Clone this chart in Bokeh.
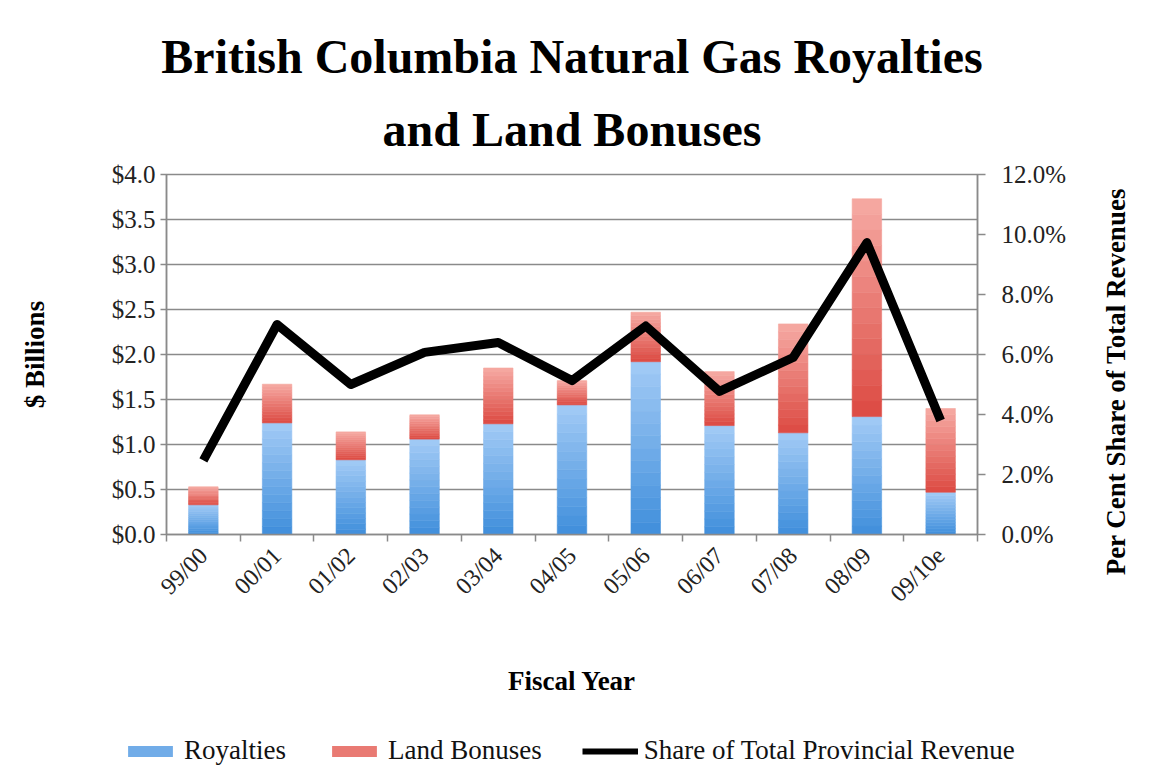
import math
from bokeh.plotting import figure
from bokeh.layouts import row, column
from bokeh.models import (Range1d, LinearAxis, FixedTicker, Title, Legend, LegendItem)
from bokeh.embed import file_html
from bokeh.resources import INLINE

# ---- data ----
years = ["99/00", "00/01", "01/02", "02/03", "03/04", "04/05",
         "05/06", "06/07", "07/08", "08/09", "09/10e"]
royalties = [0.33, 1.24, 0.83, 1.06, 1.23, 1.44, 1.92, 1.21, 1.13, 1.31, 0.47]
land_bonuses = [0.20, 0.43, 0.31, 0.27, 0.62, 0.27, 0.55, 0.60, 1.21, 2.42, 0.93]
share_pct = [2.47, 7.0, 5.0, 6.07, 6.4, 5.13, 6.95, 4.77, 5.9, 9.73, 3.8]
left_ticks = [0.0, 0.5, 1.0, 1.5, 2.0, 2.5, 3.0, 3.5, 4.0]
right_ticks = [0, 2, 4, 6, 8, 10, 12]

FONT = "Liberation Serif"
GRID = "#8a8a8a"
BLUE_BOTTOM, BLUE_TOP = "#3f8edb", "#a3cbf6"
RED_BOTTOM, RED_TOP = "#dc4a42", "#f6aaa4"

x = list(range(len(years)))

p = figure(frame_width=811, frame_height=360,
           x_range=Range1d(-0.5, len(years) - 0.5), y_range=Range1d(0, 4.0),
           output_backend="svg", toolbar_location=None,
           min_border_left=166, min_border_right=115,
           min_border_top=174, min_border_bottom=195,
           background_fill_color="white", border_fill_color="white")
p.outline_line_color = GRID
p.outline_line_width = 1.5

p.extra_y_ranges = {"pct": Range1d(0, 12)}


def lerp(c1, c2, t):
    a = [int(c1[i:i + 2], 16) for i in (1, 3, 5)]
    b = [int(c2[i:i + 2], 16) for i in (1, 3, 5)]
    return "#%02x%02x%02x" % tuple(round(a[k] + (b[k] - a[k]) * t) for k in range(3))


def gradient_bars(fig, bottoms, heights, c_bottom, c_top, steps=14):
    rends = []
    for s in range(steps):
        t0, t1 = s / steps, (s + 1) / steps
        col = lerp(c_bottom, c_top, (s + 0.5) / steps)
        b = [bo + h * t0 for bo, h in zip(bottoms, heights)]
        t = [bo + h * t1 for bo, h in zip(bottoms, heights)]
        r = fig.vbar(x=x, bottom=b, top=t, width=0.4, fill_color=col,
                     line_color=col, line_width=0.6)
        rends.append(r)
    return rends


blue_r = gradient_bars(p, [0] * len(x), royalties, BLUE_BOTTOM, BLUE_TOP)
red_r = gradient_bars(p, royalties, land_bonuses, RED_BOTTOM, RED_TOP)

line_r = p.line(x=x, y=share_pct, y_range_name="pct", line_color="black",
                line_width=9, line_join="round")

# ---- axes ----
xa = p.xaxis[0]
xa.ticker = FixedTicker(ticks=x, minor_ticks=[i - 0.5 for i in range(len(years) + 1)])
xa.major_label_overrides = {i: years[i] for i in x}
xa.major_tick_out = 0
xa.major_tick_in = 0
xa.minor_tick_out = 7
xa.minor_tick_in = 0
xa.major_label_orientation = math.pi / 4
xa.axis_label = "Fiscal Year"
xa.axis_label_standoff = 47

ya = p.yaxis[0]
ya.ticker = FixedTicker(ticks=left_ticks)
ya.major_label_overrides = {v: "$%.1f" % v for v in left_ticks}
ya.axis_label = "$ Billions"
ya.axis_label_standoff = 59
ya.minor_tick_out = 0
ya.minor_tick_in = 0
ya.major_tick_in = 0
ya.major_tick_out = 6

ra = LinearAxis(y_range_name="pct", ticker=FixedTicker(ticks=right_ticks))
ra.major_label_overrides = {v: "%.1f%%" % v for v in right_ticks}
ra.minor_tick_out = 0
ra.minor_tick_in = 0
ra.major_tick_in = 0
ra.major_tick_out = 8
p.add_layout(ra, "right")

for ax in (xa, ya, ra):
    ax.axis_line_color = GRID
    ax.axis_line_width = 1.5
    ax.major_tick_line_color = GRID
    ax.minor_tick_line_color = GRID
    ax.major_tick_line_width = 1.5
    ax.minor_tick_line_width = 1.5
    ax.major_label_text_font = FONT
    ax.major_label_text_font_size = "25px"
    ax.major_label_text_color = "#222222"
    ax.major_label_standoff = 10
    ax.axis_label_text_font = FONT
    ax.axis_label_text_font_style = "bold"
    ax.axis_label_text_font_size = "27px"
    ax.axis_label_text_color = "black"
xa.major_label_text_font_size = "24px"
ya.major_label_standoff = 5
ra.major_label_standoff = 16

p.xgrid.visible = False
p.ygrid.ticker = FixedTicker(ticks=left_ticks)
p.ygrid.grid_line_color = GRID
p.ygrid.grid_line_width = 1.5

# ---- title ----
t2 = Title(text="and Land Bonuses", align="center", text_font=FONT, text_color="black",
           text_font_size="48px", text_font_style="bold", standoff=37)
t1 = Title(text="British Columbia Natural Gas Royalties", align="center", text_font=FONT,
           text_color="black", text_font_size="48px", text_font_style="bold", standoff=0)
p.title = None
p.add_layout(t2, "above")
p.add_layout(t1, "above")

# ---- right-hand axis title (reads bottom to top) ----
q = figure(width=50, height=174 + 414 + 60, frame_width=10, frame_height=414,
           min_border_left=39, min_border_right=1, min_border_top=174, min_border_bottom=60,
           x_axis_location=None, y_axis_location=None, output_backend="svg",
           toolbar_location=None, border_fill_color="white")
q.grid.visible = False
q.outline_line_color = None
q.title = None
q.add_layout(Title(text="Per Cent Share of Total Revenues", align="center", text_font=FONT,
                   text_color="black", text_font_size="27px", text_font_style="bold",
                   standoff=2), "left")

# ---- legend strip under the chart ----
lg = figure(width=1130, height=40,
            min_border_left=0, min_border_right=0, min_border_top=0, min_border_bottom=0,
            x_range=Range1d(-0.5, len(years) - 0.5), y_range=Range1d(100, 101),
            x_axis_location=None, y_axis_location=None, output_backend="svg",
            toolbar_location=None, border_fill_color="white", background_fill_color="white")
lg.grid.visible = False
lg.outline_line_color = None
lg_blue = lg.vbar(x=x, top=royalties, width=0.4,
                  fill_color=lerp(BLUE_BOTTOM, BLUE_TOP, 0.5), line_color=None)
lg_red = lg.vbar(x=x, bottom=royalties, top=land_bonuses, width=0.4,
                 fill_color=lerp(RED_BOTTOM, RED_TOP, 0.5), line_color=None)
lg_line = lg.line(x=x, y=share_pct, line_color="black", line_width=6)
legend = Legend(items=[
    LegendItem(label="Royalties", renderers=[lg_blue]),
    LegendItem(label="Land Bonuses", renderers=[lg_red]),
    LegendItem(label="Share of Total Provincial Revenue", renderers=[lg_line]),
], orientation="horizontal", location=(122, 3))
legend.label_text_font = FONT
legend.label_text_font_size = "27px"
legend.label_text_color = "#111111"
legend.glyph_width = 56
legend.glyph_height = 14
legend.spacing = 40
legend.border_line_color = None
legend.background_fill_alpha = 0
legend.margin = 0
legend.padding = 0
legend.label_standoff = 6
lg.add_layout(legend, "center")

layout = column(row(p, q), lg)
open("out.html", "w").write(file_html(layout, INLINE))
